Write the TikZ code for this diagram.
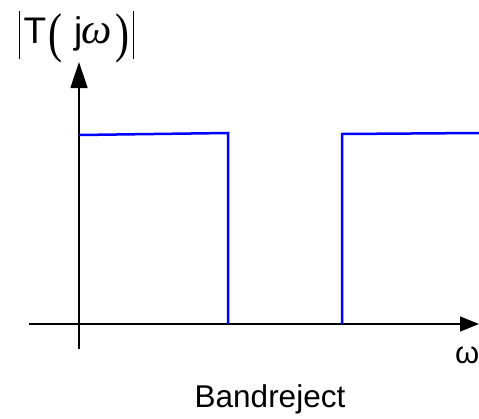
\documentclass[tikz,border=0pt]{standalone}
\usepackage{graphicx}
\usepackage{fontspec}
\setmainfont{Liberation Sans}
\newfontfamily\tnr{Liberation Serif}
\usetikzlibrary{arrows.meta}
\begin{document}
\begin{tikzpicture}[x=1pt,y=-1pt,
  axis/.style={line width=1.4pt, black},
  resp/.style={line width=2.5pt, blue, line cap=butt, line join=miter},
  bar/.style={line width=1pt, black},
  glyph/.style={inner sep=0pt, outer sep=0pt, anchor=base west}]
\useasboundingbox (0,0) rectangle (479,418);
% axes
\coordinate (yb) at (79,349);
\coordinate (yt) at (79,62);
\coordinate (xl) at (29,324);
\coordinate (xr) at (479,324);
\draw[axis,-{Triangle[length=26pt,width=17pt]}] (yb) -- (yt);
\draw[axis,-{Triangle[length=19pt,width=15pt]}] (xl) -- (xr);
% response
\coordinate (a0) at (79,135);
\coordinate (a1) at (228,133);
\coordinate (a2) at (228,324);
\coordinate (b0) at (342,324);
\coordinate (b1) at (342,134);
\coordinate (b2) at (479,133);
\draw[resp] (a0) -- (a1) -- (a2);
\draw[resp] (b0) -- (b1) -- (b2);
% labels
\node[glyph] (w) at (455,363) {\fontsize{31}{33}\selectfont ω};
\node[inner sep=0pt, anchor=base] (band) at (270,407) {\fontsize{31.5}{33}\selectfont Bandreject};
% |T(j omega)|
\coordinate (lb0) at (19.5,11);
\coordinate (lb1) at (19.5,59);
\coordinate (rb0) at (133,11);
\coordinate (rb1) at (133,59);
\draw[bar] (lb0) -- (lb1);
\draw[bar] (rb0) -- (rb1);
\node[glyph] (tT) at (23.5,43) {\fontsize{37}{39}\selectfont T};
\node[glyph] (tlp) at (48.5,51.9) {\tnr\fontsize{42}{44}\selectfont\scalebox{1}[1.3]{(}};
\node[glyph] (tj) at (74,43) {\fontsize{37}{39}\selectfont j};
\node[glyph] (tw) at (81.5,43) {\tnr\itshape\fontsize{43}{45}\selectfont ω};
\node[glyph] (trp) at (115,51.9) {\tnr\fontsize{42}{44}\selectfont\scalebox{1}[1.3]{)}};
\end{tikzpicture}
\end{document}
